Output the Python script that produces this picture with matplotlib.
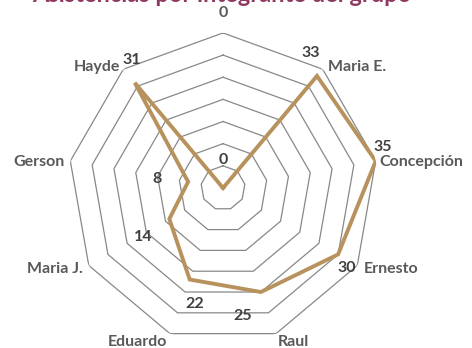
import matplotlib
matplotlib.use("Agg")
import matplotlib.pyplot as plt
import numpy as np

# Data
categories = ["0", "Maria E.", "Concepción", "Ernesto", "Raul",
              "Eduardo", "Maria J.", "Gerson", "Hayde"]
values = [0, 33, 35, 30, 25, 22, 14, 8, 31]
ring_values = [5, 10, 15, 20, 25, 30, 35]
title = "Asistencias por integrante del grupo"

plt.rcParams['font.family'] = ['Lato', 'DejaVu Sans']

fig = plt.figure(figsize=(4.72, 3.48), dpi=100)
ax = fig.add_axes([0.144, 0.0144, 0.657, 0.891], projection='polar')
ax.set_theta_zero_location('N')
ax.set_theta_direction(-1)

n = len(categories)
theta = np.arange(n) * 2 * np.pi / n
theta_closed = np.append(theta, theta[0])

# polygon gridlines
for rv in ring_values:
    ax.plot(theta_closed, [rv] * (n + 1), color='#888888', lw=0.9, zorder=1)

vals_closed = values + [values[0]]
ax.plot(theta_closed, vals_closed, color='#B8925C', lw=2.8, zorder=3,
        solid_joinstyle='miter')

ax.set_ylim(0, 35)
ax.set_xticks([])
ax.set_yticks([])
ax.grid(False)
ax.spines['polar'].set_visible(False)
ax.patch.set_alpha(0)

# category labels (offsets in pixels)
cat_style = [((0, 20), 'center', 'center'),
             ((5, 2), 'left', 'center'),
             ((4, -1), 'left', 'center'),
             ((6, -4), 'left', 'center'),
             ((2, -8), 'left', 'center'),
             ((-3, -8), 'right', 'center'),
             ((-6, -4), 'right', 'center'),
             ((-6, -1), 'right', 'center'),
             ((-3, 2), 'right', 'center')]
for t, name, (off, ha, va) in zip(theta, categories, cat_style):
    ax.annotate(name, xy=(t, 35), xytext=off, textcoords='offset pixels',
                ha=ha, va=va, fontsize=11.5, fontweight='bold', color='#595959',
                annotation_clip=False)

# data labels
lab_off = [(0, 28), (-6, 23), (7, 14), (9, -14), (-18, -24),
           (5, -24), (-26, -18), (-31, 3), (-3, 23)]
for t, v, off in zip(theta, values, lab_off):
    ax.annotate(str(v), xy=(t, v), xytext=off, textcoords='offset pixels',
                ha='center', va='center', fontsize=11.5, fontweight='bold',
                color='#404040', annotation_clip=False)

fig.text(0.47, 1 - 2 / 348, title, ha='center', va='baseline',
         fontsize=17, fontweight='bold', color='#8E3A60')

fig.savefig('out.png', dpi=100)
